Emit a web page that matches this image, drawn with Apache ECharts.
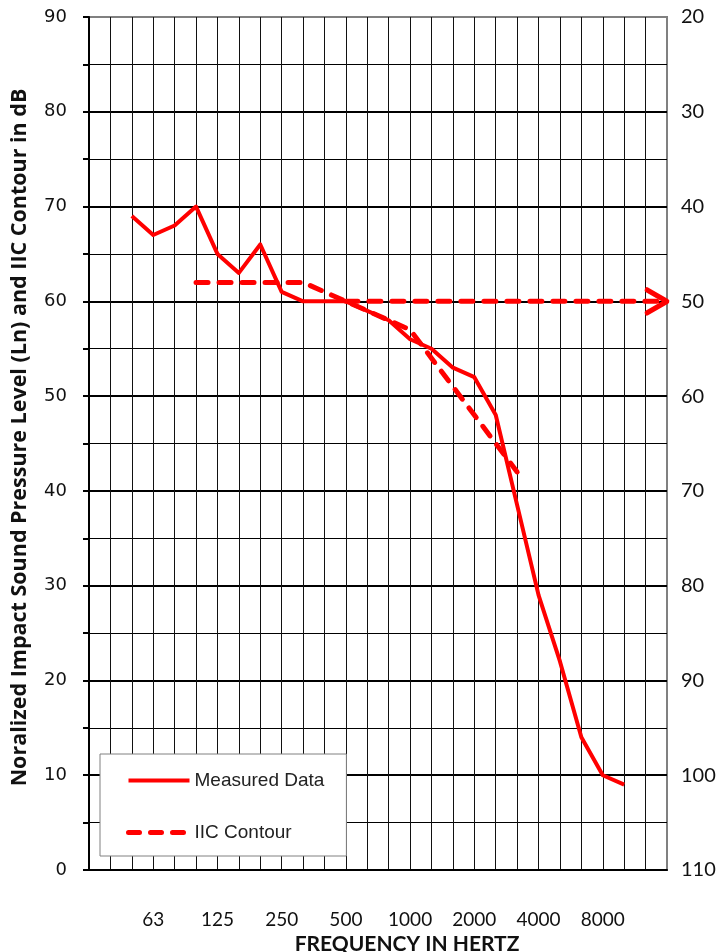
<!DOCTYPE html>
<html>
<head>
<meta charset="utf-8">
<script src="https://cdn.jsdelivr.net/npm/echarts@6/dist/echarts.min.js"></script>
<style>
  html, body { margin: 0; padding: 0; background: #fff; }
  #chart { width: 717px; height: 952px; }
</style>
</head>
<body>
<div id="chart"></div>
<script>
// 1/3 octave band centre frequencies
const freqs = ['31.5', '40', '50', '63', '80', '100', '125', '160', '200', '250', '315', '400', '500',
  '630', '800', '1000', '1250', '1600', '2000', '2500', '3150', '4000', '5000', '6300', '8000',
  '10000', '12500', '16000'];
const tickLabels = ['63', '125', '250', '500', '1000', '2000', '4000', '8000'];

// Ln measured
const measured = [null, null, 69, 67, 68, 70, 65, 63, 66, 61, 60, 60, 60, 59, 58, 56, 55, 53, 52, 48,
  38.5, 29, 22, 14, 10, 9, null, null];
// IIC contour (fitted)
const iicContour = [null, null, null, null, null, 62, 62, 62, 62, 62, 62, 61, 60, 59, 58, 57, 54, 51,
  48, 45, 42, null, null, null, null, null, null, null];
// contour value at 500 Hz carried to the right axis
const iicRating = [null, null, null, null, null, null, null, null, null, null, null, null, 60, 60, 60,
  60, 60, 60, 60, 60, 60, 60, 60, 60, 60, 60, 60, 60];

const RED = '#ff0000';
const chart = echarts.init(document.getElementById('chart'));

const solidStyle = { color: RED, width: 4, join: 'round' };
const dashStyle = {
  color: RED,
  width: 5,
  type: [12, 11],
  cap: 'round'
};

const option = {
  animation: false,
  grid: {
    left: 89,
    right: 50,
    top: 17,
    bottom: 82,
    containLabel: false,
    outerBoundsMode: 'none',
    show: true,
    borderColor: '#808080',
    borderWidth: 2
  },
  legend: {
    data: [
      { name: 'Measured Data', lineStyle: solidStyle },
      { name: 'IIC Contour', lineStyle: { color: RED, width: 5, type: [11, 11], cap: 'round' } }
    ],
    orient: 'vertical',
    left: 100,
    top: 754,
    padding: [17, 22, 14, 26],
    itemWidth: 61,
    itemHeight: 14,
    itemGap: 33,
    backgroundColor: '#fff',
    borderColor: '#808080',
    borderWidth: 1,
    borderRadius: 0,
    itemStyle: { opacity: 0 },
    textStyle: {
      fontFamily: 'Liberation Sans',
      fontSize: 19,
      color: '#222'
    }
  },
  xAxis: {
    type: 'category',
    data: freqs,
    boundaryGap: false,
    name: 'FREQUENCY IN HERTZ',
    nameLocation: 'middle',
    nameGap: 60,
    nameTextStyle: {
      fontFamily: 'Lato',
      fontWeight: 'bold',
      fontSize: 21,
      color: '#111',
      padding: [0, 0, 0, 58]
    },
    axisLine: { lineStyle: { color: '#000', width: 2 } },
    axisTick: { show: false },
    axisLabel: {
      interval: 0,
      margin: 40,
      fontFamily: 'Lato',
      fontSize: 19,
      color: '#111',
      formatter: function (v) {
        return tickLabels.indexOf(v) >= 0 ? v : '';
      }
    },
    splitLine: {
      show: true,
      interval: 0,
      showMinLine: false,
      showMaxLine: false,
      lineStyle: { color: '#111', width: 1 }
    }
  },
  yAxis: [{
    type: 'value',
    min: 0,
    max: 90,
    interval: 10,
    name: 'Noralized Impact Sound Pressure Level (Ln) and IIC Contour in dB',
    nameLocation: 'middle',
    nameRotate: 90,
    nameGap: 58,
    nameTextStyle: {
      fontFamily: 'Open Sans',
      fontWeight: 'bold',
      fontSize: 21.5,
      color: '#111',
      padding: [0, 0, 0, 12]
    },
    axisLine: { show: true, lineStyle: { color: '#000', width: 2 } },
    axisTick: { show: true, length: 6, lineStyle: { color: '#000', width: 2 } },
    minorTick: { show: true, splitNumber: 2, length: 6, lineStyle: { color: '#000', width: 2 } },
    axisLabel: {
      margin: 22,
      fontFamily: 'DejaVu Sans',
      fontSize: 18,
      color: '#111'
    },
    splitLine: {
      show: true,
      showMaxLine: false,
      lineStyle: { color: '#000', width: 2 }
    },
    minorSplitLine: {
      show: true,
      lineStyle: { color: '#000', width: 1 }
    }
  }, {
    type: 'value',
    min: 20,
    max: 110,
    interval: 10,
    inverse: true,
    position: 'right',
    axisLine: { show: false },
    axisTick: { show: false },
    splitLine: { show: false },
    axisLabel: {
      margin: 14,
      fontFamily: 'Lato',
      fontSize: 20,
      color: '#111'
    }
  }],
  series: [{
    name: 'Measured Data',
    type: 'line',
    data: measured,
    symbol: 'none',
    lineStyle: solidStyle,
    itemStyle: { color: RED },
    z: 3
  }, {
    name: 'IIC Contour',
    type: 'line',
    data: iicContour,
    symbol: 'none',
    lineStyle: dashStyle,
    itemStyle: { color: RED },
    z: 4
  }, {
    name: 'IIC Rating',
    type: 'line',
    data: iicRating,
    showSymbol: true,
    symbol: function (value, params) {
      return params.dataIndex === freqs.length - 1 ? 'path://M0,0L12,12L0,24' : 'none';
    },
    symbolSize: [20, 23],
    symbolOffset: [-10, 0],
    lineStyle: dashStyle,
    itemStyle: {
      color: 'transparent',
      borderColor: RED,
      borderWidth: 5,
      borderCap: 'round',
      borderJoin: 'round'
    },
    z: 4
  }]
};

chart.setOption(option);
</script>
</body>
</html>
